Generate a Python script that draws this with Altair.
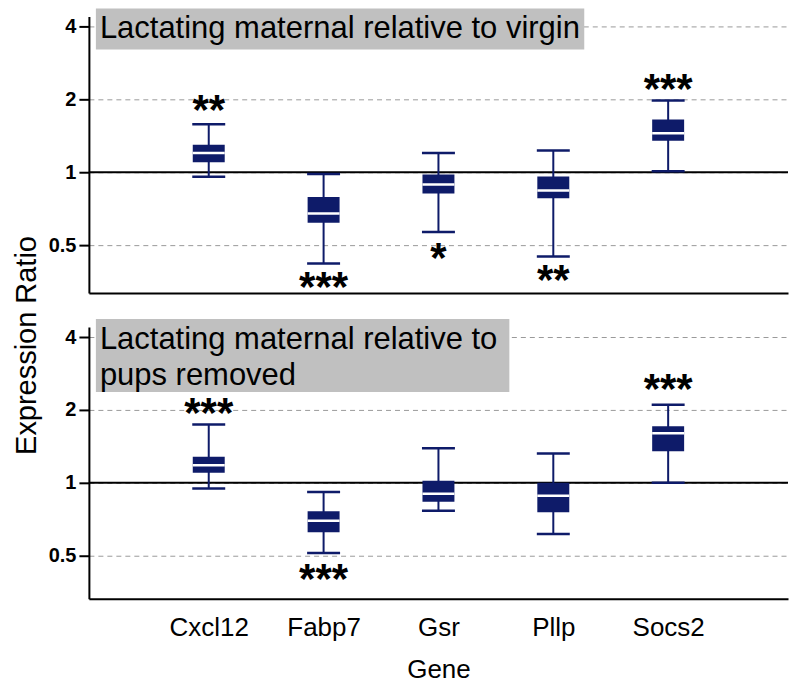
import altair as alt
import pandas as pd

genes = ["Cxcl12", "Fabp7", "Gsr", "Pllp", "Socs2"]
positions = [1, 2, 3, 4, 5]

# Panel 1: lactating maternal relative to virgin
top_low = [0.957, 0.42, 0.567, 0.449, 1.01]
top_q1 = [1.10, 0.618, 0.817, 0.78, 1.35]
top_med = [1.20, 0.675, 0.89, 0.84, 1.45]
top_q3 = [1.30, 0.79, 0.978, 0.96, 1.65]
top_high = [1.58, 0.984, 1.20, 1.23, 1.98]
top_stars = ["**", "***", "*", "**", "***"]
top_star_y = [1.91, 0.355, 0.47, 0.381, 2.33]

# Panel 2: lactating maternal relative to pups removed
bot_low = [0.947, 0.513, 0.766, 0.614, 1.0]
bot_q1 = [1.10, 0.624, 0.835, 0.755, 1.35]
bot_med = [1.18, 0.697, 0.90, 0.884, 1.60]
bot_q3 = [1.28, 0.762, 1.02, 1.0, 1.71]
bot_high = [1.74, 0.915, 1.39, 1.32, 2.10]
bot_stars = ["***", "***", "", "", "***"]
bot_star_y = [2.06, 0.423, 1.0, 1.0, 2.58]

y_ticks = [0.5, 1, 2, 4]
top_label = ["Lactating maternal relative to virgin"]
bot_label = ["Lactating maternal relative to", "pups removed"]

NAVY = "#0e1b69"
GREY = "#c0c0c0"
FONT = "Liberation Sans"

label_expr = "[''," + ",".join("'%s'" % g for g in genes) + "][datum.value]"


def panel(low, q1, med, q3, high, stars, star_y, lines, rect_w, rect_h,
          ymin, height, show_x):
    df = pd.DataFrame({"gene": genes, "pos": positions, "low": low, "q1": q1,
                       "med": med, "q3": q3, "high": high})
    sdf = pd.DataFrame({"pos": positions, "star": stars, "sy": star_y})
    sdf = sdf[sdf["star"] != ""]

    if show_x:
        xaxis = alt.Axis(values=positions, labelExpr=label_expr, ticks=False,
                         grid=False, title="Gene", labelFontSize=26,
                         labelFont=FONT, labelColor="black", labelPadding=16,
                         titleFontSize=26, titleFont=FONT,
                         titleFontWeight="normal", titleColor="black",
                         titlePadding=16, domainColor="black", domainWidth=2)
    else:
        xaxis = alt.Axis(values=positions, labels=False, ticks=False,
                         grid=False, title=None, domainColor="black",
                         domainWidth=2)
    xs = alt.Scale(domain=[0, 6], nice=False, zero=False)
    ys = alt.Scale(type="log", base=2, domain=[ymin, 4.4], nice=False)
    yaxis = alt.Axis(values=y_ticks, format="~g", title=None, grid=True,
                     gridDash=[5, 4], gridColor="#9a9a9a", gridWidth=1,
                     tickSize=10, tickWidth=2, tickColor="black",
                     domainColor="black", domainWidth=2, labelFontSize=20,
                     labelFontWeight="bold", labelFont=FONT,
                     labelColor="black", labelPadding=3)

    X = alt.X("pos:Q", scale=xs, axis=xaxis)
    base = alt.Chart(df)
    ref = alt.Chart(pd.DataFrame({"ref": [1]})).mark_rule(
        color="black", strokeWidth=2).encode(
        y=alt.Y("ref:Q", scale=ys, axis=yaxis))
    whisk = base.mark_rule(color=NAVY, strokeWidth=2).encode(
        x=X, y=alt.Y("low:Q", scale=ys, axis=yaxis), y2="high:Q")
    cap_lo = base.mark_tick(orient="horizontal", size=33, thickness=2.5,
                            color=NAVY, opacity=1).encode(
        x=X, y=alt.Y("low:Q", scale=ys, axis=yaxis))
    cap_hi = base.mark_tick(orient="horizontal", size=33, thickness=2.5,
                            color=NAVY, opacity=1).encode(
        x=X, y=alt.Y("high:Q", scale=ys, axis=yaxis))
    box = base.mark_bar(size=32, color=NAVY, opacity=1).encode(
        x=X, y=alt.Y("q1:Q", scale=ys, axis=yaxis), y2="q3:Q")
    medl = base.mark_tick(orient="horizontal", size=32, thickness=2.5,
                          color="white", opacity=1).encode(
        x=X, y=alt.Y("med:Q", scale=ys, axis=yaxis))
    star = alt.Chart(sdf).mark_text(fontSize=42, fontWeight="bold", font=FONT,
                                    color="black", dy=7).encode(
        x=X, y=alt.Y("sy:Q", scale=ys, axis=yaxis), text="star:N")
    rect = alt.Chart(pd.DataFrame({"a": [0]})).mark_rect(
        color=GREY, opacity=1).encode(
        x=alt.value(7), x2=alt.value(7 + rect_w),
        y=alt.value(-8), y2=alt.value(-8 + rect_h))
    txt = alt.Chart(pd.DataFrame({"a": [0]})).mark_text(
        text=lines, align="left", baseline="alphabetic", fontSize=31,
        font=FONT, color="black", lineHeight=36).encode(
        x=alt.value(11), y=alt.value(22))
    return alt.layer(ref, whisk, cap_lo, cap_hi, box, medl, star, rect,
                     txt).properties(width=700, height=height)


top = panel(top_low, top_q1, top_med, top_q3, top_high, top_stars,
            top_star_y, top_label, 489, 41, 0.317, 277, False)
bot = panel(bot_low, bot_q1, bot_med, bot_q3, bot_high, bot_stars,
            bot_star_y, bot_label, 414, 73, 0.332, 272, True)

chart = alt.vconcat(top, bot, spacing=9).properties(
    title=alt.TitleParams("Expression Ratio", orient="left", anchor="middle",
                          fontSize=29, fontWeight="normal", font=FONT,
                          color="black", offset=6),
    padding={"left": 5, "top": 0, "right": 0, "bottom": 0},
).configure_view(stroke=None)

chart.save("out.html", embed_options={"renderer": "svg", "actions": False})
